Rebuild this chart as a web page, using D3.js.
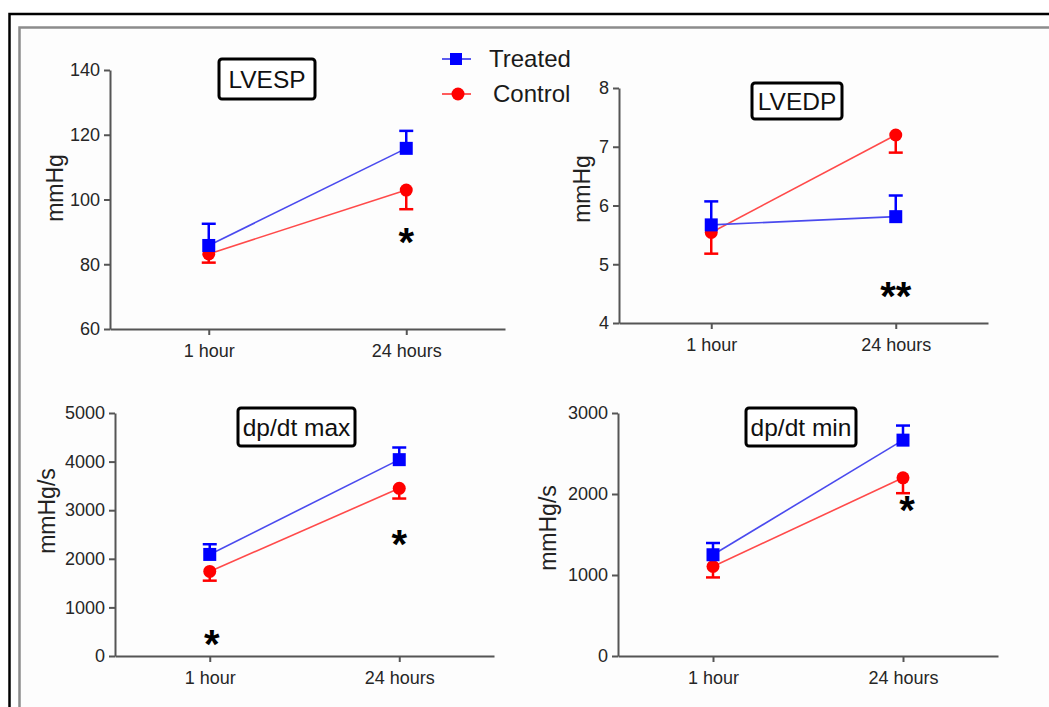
<!DOCTYPE html>
<html>
<head>
<meta charset="utf-8">
<script src="https://cdn.jsdelivr.net/npm/d3@7"></script>
<style>
  html, body { margin: 0; padding: 0; background: #fff; }
  svg { display: block; font-family: "Liberation Sans", Arial, sans-serif; }
</style>
</head>
<body>
<svg id="chart" width="1049" height="707"></svg>
<script>
// Time points on the x axis of every panel
const timepoints = ["1 hour", "24 hours"];
const seriesNames = ["Treated", "Control"];

// LVESP (mmHg)
const lvespTreated = [85.8, 115.8];
const lvespTreatedSem = [6.7, 5.4];
const lvespControl = [83.2, 102.9];
const lvespControlSem = [2.7, 5.9];
const lvespTicks = [60, 80, 100, 120, 140];

// LVEDP (mmHg)
const lvedpTreated = [5.67, 5.81];
const lvedpTreatedSem = [0.40, 0.36];
const lvedpControl = [5.54, 7.20];
const lvedpControlSem = [0.36, 0.30];
const lvedpTicks = [4, 5, 6, 7, 8];

// dp/dt max (mmHg/s)
const dpMaxTreated = [2090, 4040];
const dpMaxTreatedSem = [210, 250];
const dpMaxControl = [1740, 3450];
const dpMaxControlSem = [190, 210];
const dpMaxTicks = [0, 1000, 2000, 3000, 4000, 5000];

// dp/dt min (mmHg/s)
const dpMinTreated = [1250, 2665];
const dpMinTreatedSem = [145, 180];
const dpMinControl = [1105, 2200];
const dpMinControlSem = [135, 190];
const dpMinTicks = [0, 1000, 2000, 3000];

const BLUE = "#0000ff", RED = "#ff0000";
const svg = d3.select("#chart");

// Figure frame (runs off the right and bottom edges)
svg.append("rect").attr("x", 19.5).attr("y", 27.5).attr("width", 1100).attr("height", 760)
  .attr("fill", "#fdfdfd").attr("stroke", "#8c8c8c").attr("stroke-width", 2.5);
svg.append("rect").attr("x", 9.5).attr("y", 14).attr("width", 1100).attr("height", 760)
  .attr("fill", "none").attr("stroke", "#000").attr("stroke-width", 2.5);

const panels = [
  { title: "LVESP", unit: "mmHg", ticks: lvespTicks,
    treated: lvespTreated, tSem: lvespTreatedSem, control: lvespControl, cSem: lvespControlSem,
    x0: 110, x1: 505, yTop: 70, yBot: 329,
    box: [219, 59, 96, 40], label: [63, 188],
    stars: [{ t: "*", i: 1, y: 233 }] },
  { title: "LVEDP", unit: "mmHg", ticks: lvedpTicks,
    treated: lvedpTreated, tSem: lvedpTreatedSem, control: lvedpControl, cSem: lvedpControlSem,
    x0: 619, x1: 988, yTop: 88, yBot: 323,
    box: [752, 83, 90, 36], label: [590, 189],
    stars: [{ t: "**", i: 1, y: 287 }] },
  { title: "dp/dt max", unit: "mmHg/s", ticks: dpMaxTicks,
    treated: dpMaxTreated, tSem: dpMaxTreatedSem, control: dpMaxControl, cSem: dpMaxControlSem,
    x0: 115, x1: 494, yTop: 413, yBot: 656,
    box: [238, 408, 117, 38], label: [55, 511],
    stars: [{ t: "*", i: 1, y: 535 }, { t: "*", i: 0, y: 635, dx: 2 }] },
  { title: "dp/dt min", unit: "mmHg/s", ticks: dpMinTicks,
    treated: dpMinTreated, tSem: dpMinTreatedSem, control: dpMinControl, cSem: dpMinControlSem,
    x0: 618, x1: 998, yTop: 413, yBot: 656,
    box: [746, 408, 110, 38], label: [556, 528],
    stars: [{ t: "*", i: 1, y: 501, dx: 4 }] }
];

panels.forEach(p => {
  const g = svg.append("g");
  const x = d3.scalePoint().domain(timepoints).range([p.x0, p.x1]).padding(0.5);
  const y = d3.scaleLinear().domain(d3.extent(p.ticks)).range([p.yBot, p.yTop]);

  const styleAxis = sel => {
    sel.selectAll("path, line").attr("stroke", "#555").attr("stroke-width", 2);
    sel.selectAll("text").attr("fill", "#262626").style("font-size", "18px")
      .style("font-family", "'Liberation Sans', Arial, sans-serif");
  };

  g.append("g").attr("transform", `translate(0,${p.yBot})`)
    .call(d3.axisBottom(x).tickSizeInner(6).tickSizeOuter(0).tickPadding(9))
    .call(styleAxis);
  g.append("g").attr("transform", `translate(${p.x0},0)`)
    .call(d3.axisLeft(y).tickValues(p.ticks).tickSizeInner(6).tickSizeOuter(0).tickPadding(4)
      .tickFormat(d3.format("d")))
    .call(styleAxis);

  // y-axis title
  g.append("text")
    .attr("transform", `translate(${p.label[0]},${p.label[1]}) rotate(-90)`)
    .attr("text-anchor", "middle").attr("fill", "#222").style("font-size", "23px")
    .text(p.unit);

  // boxed panel title
  const [bx, by, bw, bh] = p.box;
  g.append("rect").attr("x", bx).attr("y", by).attr("width", bw).attr("height", bh)
    .attr("rx", 3).attr("fill", "#fff").attr("stroke", "#000").attr("stroke-width", 3);
  g.append("text").attr("x", bx + bw / 2).attr("y", by + bh / 2 + 8.5)
    .attr("text-anchor", "middle").attr("fill", "#111").style("font-size", "24.5px")
    .text(p.title);

  const groups = [
    { name: "Control", vals: p.control, sem: p.cSem, color: RED, line: "#ff4a4a", dir: -1, shape: "circle" },
    { name: "Treated", vals: p.treated, sem: p.tSem, color: BLUE, line: "#4a4aee", dir: 1, shape: "square" }
  ];
  groups.forEach(s => {
    const pts = timepoints.map((t, i) => ({ t, v: s.vals[i], e: s.sem[i] }));
    g.append("path").datum(pts)
      .attr("d", d3.line().x(d => x(d.t)).y(d => y(d.v)))
      .attr("fill", "none").attr("stroke", s.line).attr("stroke-width", 1.6);
    // one-sided error bars (SEM)
    pts.forEach(d => {
      const yEnd = y(d.v + s.dir * d.e);
      g.append("line").attr("x1", x(d.t)).attr("x2", x(d.t)).attr("y1", y(d.v)).attr("y2", yEnd)
        .attr("stroke", s.color).attr("stroke-width", 2.5);
      g.append("line").attr("x1", x(d.t) - 7).attr("x2", x(d.t) + 7).attr("y1", yEnd).attr("y2", yEnd)
        .attr("stroke", s.color).attr("stroke-width", 2.5);
    });
    pts.forEach(d => {
      if (s.shape === "square") {
        g.append("rect").attr("x", x(d.t) - 6.5).attr("y", y(d.v) - 6.5)
          .attr("width", 13).attr("height", 13).attr("fill", s.color);
      } else {
        g.append("circle").attr("cx", x(d.t)).attr("cy", y(d.v)).attr("r", 6.5).attr("fill", s.color);
      }
    });
  });

  // significance marks
  p.stars.forEach(st => {
    g.append("text").attr("x", x(timepoints[st.i]) + (st.dx || 0)).attr("y", st.y + 23)
      .attr("text-anchor", "middle").attr("fill", "#000")
      .style("font-size", "40px").style("font-weight", "bold")
      .text(st.t);
  });
});

// Legend
const legend = svg.append("g");
const legendItems = [
  { name: seriesNames[0], color: BLUE, line: "#4a4aee", shape: "square", y: 59, tx: 489 },
  { name: seriesNames[1], color: RED, line: "#ff4a4a", shape: "circle", y: 94, tx: 493 }
];
legendItems.forEach(it => {
  legend.append("line").attr("x1", 442).attr("x2", 471).attr("y1", it.y).attr("y2", it.y)
    .attr("stroke", it.line).attr("stroke-width", 1.8);
  if (it.shape === "square") {
    legend.append("rect").attr("x", 450).attr("y", it.y - 6).attr("width", 12).attr("height", 12)
      .attr("fill", it.color);
  } else {
    legend.append("circle").attr("cx", 458).attr("cy", it.y).attr("r", 6.5).attr("fill", it.color);
  }
  legend.append("text").attr("x", it.tx).attr("y", it.y + 8).attr("fill", "#1a1a1a")
    .style("font-size", "24px").text(it.name);
});
</script>
</body>
</html>
